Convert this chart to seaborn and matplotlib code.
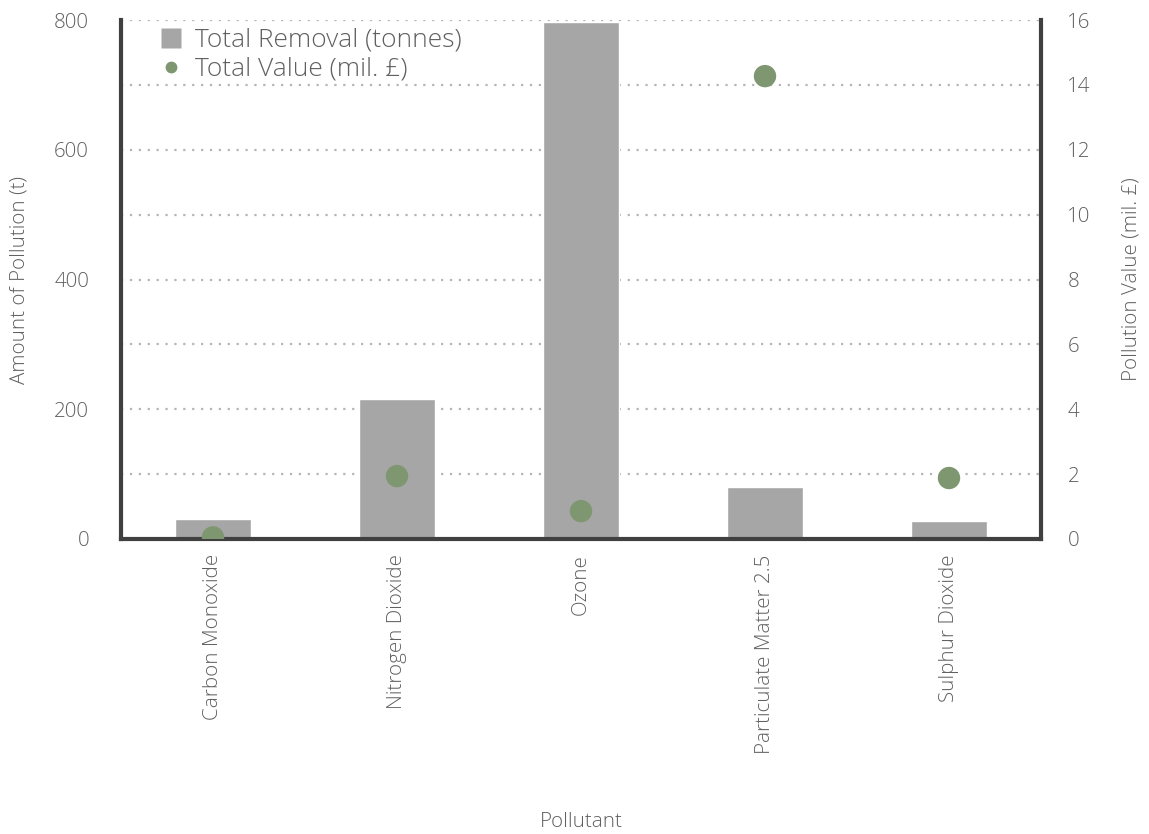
import matplotlib
matplotlib.use("Agg")
import matplotlib.pyplot as plt
import seaborn as sns
import pandas as pd
from matplotlib.lines import Line2D

categories = ["Carbon Monoxide", "Nitrogen Dioxide", "Ozone", "Particulate Matter 2.5", "Sulphur Dioxide"]
removal_tonnes = [31, 216, 797, 80, 28]
value_mil = [0.05, 1.94, 0.86, 14.27, 1.88]
left_ticks = [0, 200, 400, 600, 800]
right_ticks = [0, 2, 4, 6, 8, 10, 12, 14, 16]

df = pd.DataFrame({"Pollutant": categories, "Removal": removal_tonnes, "Value": value_mil})

sns.set_style("white")
plt.rcParams['font.family'] = ['Open Sans', 'DejaVu Sans']
plt.rcParams['font.weight'] = 300
plt.rcParams['axes.labelweight'] = 300
text_color = "#606060"
spine_color = "#404040"
bar_color = "#a6a6a6"
pt_color = "#7f9771"
fs = 14.8

fig = plt.figure(figsize=(11.49, 8.34), dpi=100)
ax = fig.add_axes([121/1149, 1-539/834, 920/1149, 519/834])

sns.barplot(data=df, x="Pollutant", y="Removal", color=bar_color, width=0.41,
            saturation=1, ax=ax, zorder=2)
ax.set_ylim(0, 800)
ax.set_xlim(-0.5, 4.5)
for yv in range(100, 801, 100):
    ax.axhline(yv, color="#b5b5b5", linestyle=(0, (1, 3)), linewidth=1.6, zorder=1)

ax2 = ax.twinx()
sns.scatterplot(x=list(range(len(categories))), y=value_mil, ax=ax2, color=pt_color,
                s=260, edgecolor="none", zorder=5, legend=False)
ax2.set_ylim(0, 16)
ax2.set_xlim(-0.5, 4.5)

ax.set_xticks([i - 0.5 for i in range(len(categories) + 1)])
ax.set_xticklabels([])
ax.set_xticks(list(range(len(categories))), minor=True)
ax.set_xticklabels(categories, minor=True, rotation=90, fontsize=fs, color=text_color, fontweight=300)
ax.tick_params(axis="x", which="major", length=9, width=3, color=spine_color, direction="out")
ax.tick_params(axis="x", which="minor", length=0, pad=11)
ax.set_xlabel("Pollutant", fontsize=fs, color=text_color, fontweight=300, va="center")
ax.xaxis.set_label_coords(0.5, -0.545)

ax.set_yticks(left_ticks)
ax.set_yticklabels([str(t) for t in left_ticks], fontsize=fs, color=text_color, fontweight=300)
ax.tick_params(axis="y", length=0, pad=23)
ax.set_ylabel("Amount of Pollution (t)", fontsize=fs, color=text_color, fontweight=300, va="center")
ax.yaxis.set_label_coords(-0.1098, 0.5)

ax2.set_yticks(right_ticks)
ax2.set_yticklabels([str(t) for t in right_ticks], fontsize=fs, color=text_color, fontweight=300)
ax2.tick_params(axis="y", length=0, pad=19)
ax2.set_ylabel("Pollution Value (mil. £)", fontsize=fs, color=text_color, fontweight=300, va="center")
ax2.yaxis.set_label_coords(1.098, 0.5)

for a in (ax, ax2):
    a.spines["top"].set_visible(False)
    for s in ("left", "right", "bottom"):
        a.spines[s].set_color(spine_color)
        a.spines[s].set_linewidth(3)
ax2.spines["bottom"].set_visible(False)
ax2.spines["left"].set_visible(False)
ax.spines["right"].set_visible(False)

handles = [Line2D([0], [0], marker="s", color="none", markerfacecolor=bar_color, markeredgecolor="none", markersize=14),
           Line2D([0], [0], marker="o", color="none", markerfacecolor=pt_color, markeredgecolor="none", markersize=8.5)]
leg = ax2.legend(handles, ["Total Removal (tonnes)", "Total Value (mil. £)"], loc="upper left",
                 frameon=False, bbox_to_anchor=(0.026, 1.005), handletextpad=0.3,
                 labelspacing=0.15, borderaxespad=0, handlelength=1.2,
                 prop={"weight": 300, "size": 19})
for t in leg.get_texts():
    t.set_color(text_color)

fig.savefig("out.png", dpi=100, facecolor="white")
